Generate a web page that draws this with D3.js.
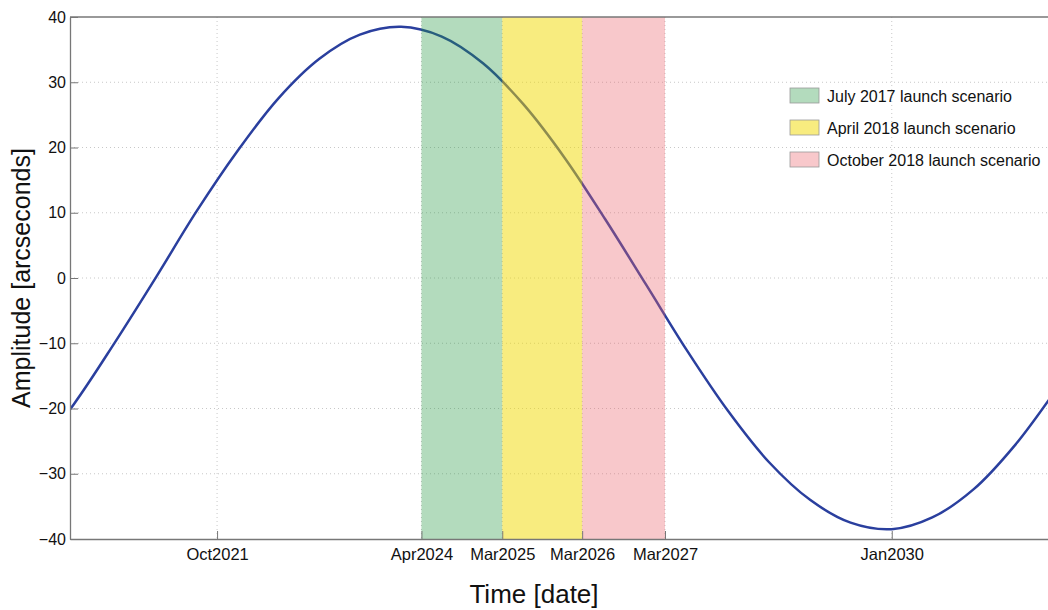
<!DOCTYPE html>
<html>
<head>
<meta charset="utf-8">
<script src="https://cdn.jsdelivr.net/npm/d3@7"></script>
<style>
  body { margin: 0; background: #fff; }
  svg { font-family: "Liberation Sans", Arial, sans-serif; }
  .grid line { stroke: #c8c8c8; stroke-dasharray: 1,3; }
</style>
</head>
<body>
<svg id="chart" width="1048" height="610"></svg>
<script>
// amplitude curve (date, arcseconds)
const curveDates = ["2019-07-01","2020-01-01","2020-07-01","2021-01-01","2021-07-01","2022-01-01","2022-07-01",
  "2023-01-01","2023-07-01","2024-01-01","2024-07-01","2025-01-01","2025-07-01","2026-01-01","2026-07-01",
  "2027-01-01","2027-07-01","2028-01-01","2028-07-01","2029-01-01","2029-07-01","2030-01-01","2030-07-01",
  "2031-01-01","2031-07-01","2032-01-01"];
const curveValues = [-27.4,-19.3,-9.9,0.1,10.2,19.5,27.5,33.6,37.3,38.5,37.0,32.9,26.6,18.4,9.0,
  -1.1,-11.1,-20.4,-28.2,-34.0,-37.5,-38.5,-36.7,-32.4,-25.8,-17.3];

// arrival windows per launch scenario
const scenarios = ["July 2017 launch scenario","April 2018 launch scenario","October 2018 launch scenario"];
const bandStart = ["2024-04-01","2025-03-28","2026-03-20"];
const bandEnd   = ["2025-03-28","2026-03-20","2027-03-25"];
const bandColors = ["#269842","#f1d900","#eb626a"];

const xTickDates = ["2021-10-01","2024-04-01","2025-03-28","2026-03-20","2027-03-25","2030-01-01"];
const yTicks = [-40,-30,-20,-10,0,10,20,30,40];

const parse = d3.timeParse("%Y-%m-%d");
const svg = d3.select("#chart");
const margin = {left: 70, top: 17, right: 0, bottom: 71};
const W = 1048, H = 610;

const x = d3.scaleTime()
  .domain([parse("2019-12-14"), parse("2031-11-30")])
  .range([margin.left, W - margin.right]);
const y = d3.scaleLinear().domain([-40, 40]).range([H - margin.bottom, margin.top]);

const g = svg.append("g");

svg.append("clipPath").attr("id", "clip")
  .append("rect").attr("x", margin.left).attr("y", margin.top)
  .attr("width", W - margin.left).attr("height", y(-40) - margin.top);

// grid
g.append("g").attr("class", "grid")
  .selectAll("line").data(yTicks.slice(1, -1)).enter().append("line")
  .attr("x1", margin.left).attr("x2", W).attr("y1", d => y(d)).attr("y2", d => y(d));
g.append("g").attr("class", "grid")
  .selectAll("line").data(xTickDates).enter().append("line")
  .attr("x1", d => x(parse(d))).attr("x2", d => x(parse(d)))
  .attr("y1", margin.top).attr("y2", y(-40));

// curve
const pts = curveDates.map((d, i) => [parse(d), curveValues[i]]);
g.append("path").datum(pts)
  .attr("clip-path", "url(#clip)")
  .attr("fill", "none").attr("stroke", "#2a3f9e").attr("stroke-width", 2.5)
  .attr("d", d3.line().x(d => x(d[0])).y(d => y(d[1])).curve(d3.curveCatmullRom));

// bands over the curve
g.selectAll(".band").data(scenarios).enter().append("rect")
  .attr("class", "band")
  .attr("x", (d, i) => x(parse(bandStart[i])))
  .attr("width", (d, i) => x(parse(bandEnd[i])) - x(parse(bandStart[i])))
  .attr("y", margin.top).attr("height", y(-40) - margin.top)
  .attr("fill", (d, i) => bandColors[i]).attr("fill-opacity", (d, i) => i == 1 ? 0.5 : 0.35);

// axes
const xAxis = d3.axisBottom(x).tickValues(xTickDates.map(parse))
  .tickFormat(d3.timeFormat("%b%Y")).tickSizeInner(-8).tickSizeOuter(0).tickPadding(9);
const yAxis = d3.axisLeft(y).tickValues(yTicks)
  .tickFormat(d => d < 0 ? "\u2212" + Math.abs(d) : d).tickSizeInner(-8).tickSizeOuter(0).tickPadding(4);

const gx = g.append("g").attr("transform", `translate(0,${y(-40)})`).call(xAxis);
const gy = g.append("g").attr("transform", `translate(${margin.left},0)`).call(yAxis);
[gx, gy].forEach(a => {
  a.select(".domain").attr("stroke", "#777").attr("stroke-width", 1.3);
  a.selectAll(".tick line").attr("stroke", "#777");
  a.selectAll(".tick text").attr("font-size", 16.5).attr("fill", "#111").attr("font-family", "Liberation Sans, Arial, sans-serif");
});
gy.selectAll(".tick text").attr("font-size", 16);
g.append("line").attr("x1", margin.left).attr("x2", W).attr("y1", margin.top).attr("y2", margin.top)
  .attr("stroke", "#777").attr("stroke-width", 1.3);

// labels
svg.append("text").attr("x", 534).attr("y", 603).attr("text-anchor", "middle")
  .attr("font-size", 26).attr("fill", "#111").text("Time [date]");
svg.append("text").attr("transform", "translate(30,278) rotate(-90)").attr("text-anchor", "middle")
  .attr("font-size", 25).attr("fill", "#111").text("Amplitude [arcseconds]");

// legend
const leg = svg.append("g").attr("transform", "translate(790,88)");
const items = leg.selectAll("g").data(scenarios).enter().append("g")
  .attr("transform", (d, i) => `translate(0,${i * 32})`);
items.append("rect").attr("width", 29).attr("height", 15)
  .attr("fill", (d, i) => bandColors[i]).attr("fill-opacity", (d, i) => i == 1 ? 0.5 : 0.35)
  .attr("stroke", "#999").attr("stroke-width", 0.8);
items.append("text").attr("x", 37).attr("y", 14).attr("font-size", 16).attr("fill", "#111").text(d => d);
</script>
</body>
</html>
